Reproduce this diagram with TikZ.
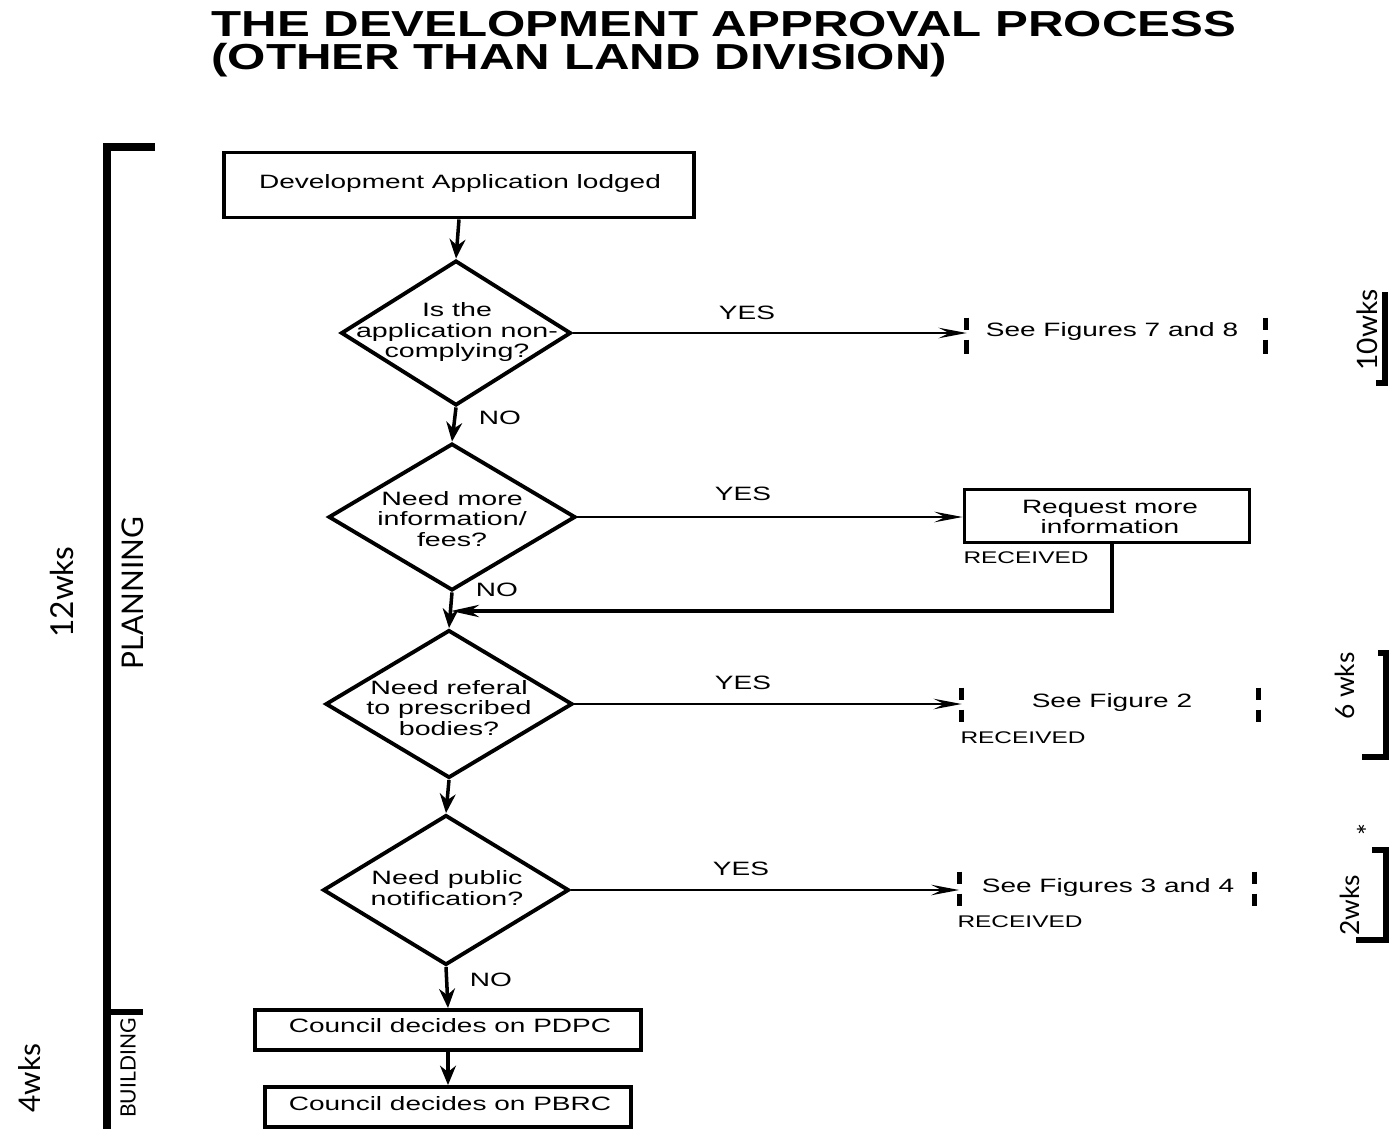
\documentclass[tikz,border=0pt]{standalone}
\usepackage{fontspec}
\setmainfont{Liberation Sans}
\newfontfamily\handfont{Lato}
\usetikzlibrary{shapes.geometric,arrows.meta}
\begin{document}
\begin{tikzpicture}[x=0.02cm,y=-0.02cm,
  box/.style={draw,rectangle,line width=2.2pt,inner sep=0pt},
  dia/.style={draw,diamond,line width=2.2pt,inner sep=0pt},
  txt/.style={xscale=1.45,font=\fontsize{11}{11.5}\selectfont,align=center,inner sep=0pt},
  dtxt/.style={xscale=1.48,font=\fontsize{11}{11.6}\selectfont,align=center,inner sep=0pt},
  lbl/.style={xscale=1.45,font=\fontsize{11}{11.3}\selectfont,inner sep=0pt},
  rcv/.style={xscale=1.45,font=\fontsize{9.6}{10}\selectfont,inner sep=0pt,anchor=west},
  ghost/.style={rectangle,inner sep=0pt},
  darr/.style={line width=2pt,-{Stealth[length=11pt,width=9pt]}},
  harr/.style={line width=1.4pt,-{Stealth[length=16pt,width=6pt,inset=6pt]}},
  bars/.style={line width=3pt,dash pattern=on 0.24cm off 0.2cm on 0.3cm},
  hand/.style={font=\handfont,inner sep=0pt,rotate=90},
  hline/.style={line width=3.5pt}]
\useasboundingbox (0,0) rectangle (1389,1129);
% title
\node[anchor=north west,align=left,inner sep=0pt,xscale=1.36,
      font=\fontsize{20.6}{18.6}\selectfont\bfseries] (title) at (211,11)
      {THE DEVELOPMENT APPROVAL PROCESS\\(OTHER THAN LAND DIVISION)};
% main column
\node[box,minimum width=9.4cm,minimum height=1.3cm] (start) at (459,185) {};
\node[txt] (startt) at (460,184) {Development Application lodged};
\node[dia,minimum width=4.6cm,minimum height=2.9cm] (d1) at (456,333) {};
\node[dtxt] (d1t) at (457,332) {Is the\\application non-\\complying?};
\node[dia,minimum width=4.94cm,minimum height=2.94cm] (d2) at (452,517) {};
\node[dtxt] (d2t) at (452,519) {Need more\\information/\\fees?};
\node[dia,minimum width=4.94cm,minimum height=2.96cm] (d3) at (449,704) {};
\node[dtxt] (d3t) at (449,708) {Need referal\\to prescribed\\bodies?};
\node[dia,minimum width=4.92cm,minimum height=3.0cm] (d4) at (446,890) {};
\node[dtxt] (d4t) at (447,888) {Need public\\notification?};
\node[box,minimum width=7.72cm,minimum height=0.8cm] (pdpc) at (448,1030) {};
\node[txt] (pdpct) at (450,1026) {Council decides on PDPC};
\node[box,minimum width=7.32cm,minimum height=0.8cm] (pbrc) at (448,1107) {};
\node[txt] (pbrct) at (450,1104) {Council decides on PBRC};
% right column
\node[ghost,minimum width=5.96cm,minimum height=0.72cm] (f1) at (1116,336) {};
\node[txt] (f1t) at (1112,331) {See Figures 7 and 8};
\node[box,minimum width=5.7cm,minimum height=1.06cm] (req) at (1107,516) {};
\node[txt] (reqt) at (1110,517) {Request more\\information};
\node[ghost,minimum width=5.92cm,minimum height=0.68cm] (f2) at (1110,705) {};
\node[txt] (f2t) at (1112,702) {See Figure 2};
\node[ghost,minimum width=5.9cm,minimum height=0.68cm] (f3) at (1107,889) {};
\node[txt] (f3t) at (1108,887) {See Figures 3 and 4};
\draw[bars] (f1.north west) -- (f1.south west);
\draw[bars] (f1.north east) -- (f1.south east);
\draw[bars] (f2.north west) -- (f2.south west);
\draw[bars] (f2.north east) -- (f2.south east);
\draw[bars] (f3.north west) -- (f3.south west);
\draw[bars] (f3.north east) -- (f3.south east);
\node[rcv] (r1) at (963,558) {RECEIVED};
\node[rcv] (r2) at (960,738) {RECEIVED};
\node[rcv] (r3) at (957,922) {RECEIVED};
% connectors
\draw[darr] (start.south) -- (d1.north);
\draw[darr] (d1.south) -- (d2.north);
\draw[darr] (d2.south) -- (d3.north);
\draw[darr] (d3.south) -- (d4.north);
\draw[darr] (d4.south) -- (pdpc.north);
\draw[darr] (pdpc.south) -- (pbrc.north);
\draw[harr] (d1.east) -- (f1.west |- d1.east);
\draw[harr] (d2.east) -- (req.west |- d2.east);
\draw[harr] (d3.east) -- (f2.west |- d3.east);
\draw[harr] (d4.east) -- (f3.west |- d4.east);
\coordinate (ret) at (451,611);
\draw[line width=2pt,-{Stealth[length=16pt,width=7pt,inset=5pt]}]
  ([xshift=0.1cm]req.south) |- (ret);
% yes / no labels
\node[lbl] (y1) at (747,313) {YES};
\node[lbl] (y2) at (743,494) {YES};
\node[lbl] (y3) at (743,683) {YES};
\node[lbl] (y4) at (741,869) {YES};
\node[lbl] (n1) at (500,418) {NO};
\node[lbl] (n2) at (497,590) {NO};
\node[lbl] (n3) at (491,980) {NO};
% left bracket
\draw[line width=4pt] (155,147) -- (107,147) -- (107,1129);
\draw[hline] (107,1012) -- (143,1012);
\node[hand,font=\handfont\fontsize{17}{17}\selectfont] (planning) at (133,593) {PLANNING};
\node[hand,font=\handfont\fontsize{18}{18}\selectfont] (w12) at (62,592) {12wks};
\node[hand,font=\handfont\fontsize{12}{12}\selectfont] (building) at (128,1068) {BUILDING};
\node[hand,font=\handfont\fontsize{17}{17}\selectfont] (w4) at (30,1078) {4wks};
% right brackets
\draw[hline,line width=3pt] (1385,292) -- (1385,383) -- (1376,383);
\node[hand,font=\handfont\fontsize{16}{16}\selectfont] (w10) at (1367,330) {10wks};
\draw[hline] (1378,653) -- (1386,653) -- (1386,757) -- (1362,757);
\node[hand,font=\handfont\fontsize{15}{15}\selectfont] (w6) at (1345,686) {6 wks};
\draw[hline] (1372,850) -- (1386,850) -- (1386,940) -- (1356,940);
\node[hand,font=\handfont\fontsize{15}{15}\selectfont] (w2) at (1350,905) {2wks};
\node[hand,font=\handfont\fontsize{16}{16}\selectfont] (ast) at (1368,830) {*};
\end{tikzpicture}
\end{document}
